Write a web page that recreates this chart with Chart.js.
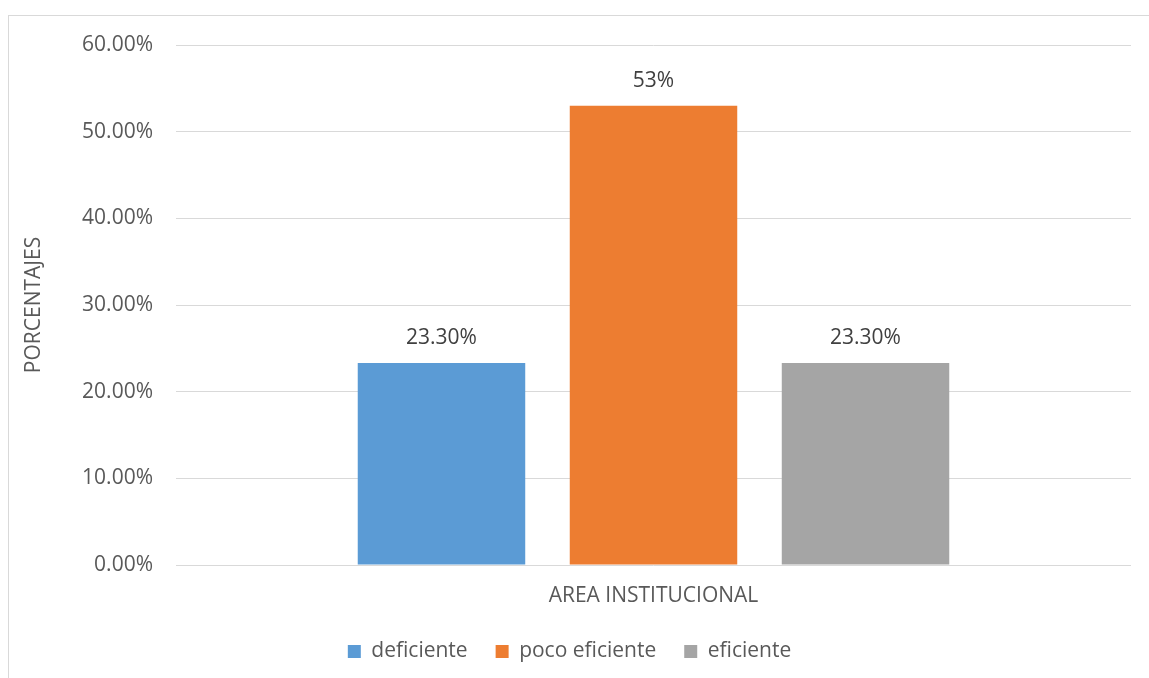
<!DOCTYPE html>
<html>
<head>
<meta charset="utf-8">
<script src="https://cdn.jsdelivr.net/npm/chart.js@4/dist/chart.umd.min.js"></script>
<style>
  html, body { margin: 0; padding: 0; background: #fff; }
  #wrap { width: 1149px; height: 678px; position: relative; }
</style>
</head>
<body>
<div id="wrap"><canvas id="areaChart" width="1149" height="678"></canvas></div>
<script>
const categories = ['AREA INSTITUCIONAL'];
const seriesNames = ['deficiente', 'poco eficiente', 'eficiente'];
const seriesValues = [23.3, 53, 23.3];
const valueLabels = ['23.30%', '53%', '23.30%'];
const seriesColors = ['#5B9BD5', '#ED7D31', '#A5A5A5'];
const yTicks = [0, 10, 20, 30, 40, 50, 60];

const fontFam = '"Open Sans", "Liberation Sans", sans-serif';

// outer frame of the chart box
const framePlugin = {
	id: 'frame',
	beforeDraw(chart){
		const ctx = chart.ctx;
		ctx.save();
		ctx.strokeStyle = '#d9d9d9';
		ctx.lineWidth = 1;
		ctx.strokeRect(8.5, 15.5, 1200, 700);
		ctx.restore();
	}
};

// value text above each bar
const barLabels = {
	id: 'barLabels',
	afterDatasetsDraw(chart){
		const ctx = chart.ctx;
		ctx.save();
		ctx.font = '21px ' + fontFam;
		ctx.fillStyle = '#404040';
		ctx.textAlign = 'center';
		ctx.textBaseline = 'middle';
		chart.data.datasets.forEach((ds, i) => {
			const bar = chart.getDatasetMeta(i).data[0];
			ctx.fillText(valueLabels[i], bar.x, bar.y - 25);
		});
		ctx.restore();
	}
};

const areaChart = new Chart(document.querySelector('#areaChart').getContext('2d'), {
	type: 'bar',
	data: {
		labels: categories,
		datasets: seriesNames.map((name, i) => ({
			label: name,
			data: [seriesValues[i]],
			backgroundColor: seriesColors[i],
			categoryPercentage: 0.666,
			barPercentage: 0.79
		}))
	},
	options: {
		responsive: false,
		animation: false,
		layout: { padding: { left: 8, top: 45, right: 18, bottom: 6 } },
		plugins: {
			legend: {
				position: 'bottom',
				labels: {
					font: { size: 21, family: fontFam },
					color: '#595959',
					boxWidth: 13,
					boxHeight: 13,
					padding: 28
				}
			},
			tooltip: { enabled: false }
		},
		scales: {
			x: {
				grid: { display: false },
				border: { display: false },
				ticks: {
					font: { size: 21, family: fontFam },
					color: '#595959',
					padding: 10
				},
				afterFit(scale){ scale.height = 48; }
			},
			y: {
				min: 0,
				max: 60,
				afterBuildTicks(scale){ scale.ticks = yTicks.map(v => ({ value: v })); },
				grid: { color: '#d9d9d9', drawTicks: false },
				border: { display: false },
				ticks: {
					font: { size: 21, family: fontFam },
					color: '#595959',
					padding: 23,
					callback: v => v.toFixed(2) + '%'
				},
				title: {
					display: true,
					text: 'PORCENTAJES',
					font: { size: 21, family: fontFam },
					color: '#595959',
					padding: { top: 13, bottom: 6 }
				},
				afterFit(scale){ scale.width = 168; }
			}
		}
	},
	plugins: [framePlugin, barLabels]
});
</script>
</body>
</html>
